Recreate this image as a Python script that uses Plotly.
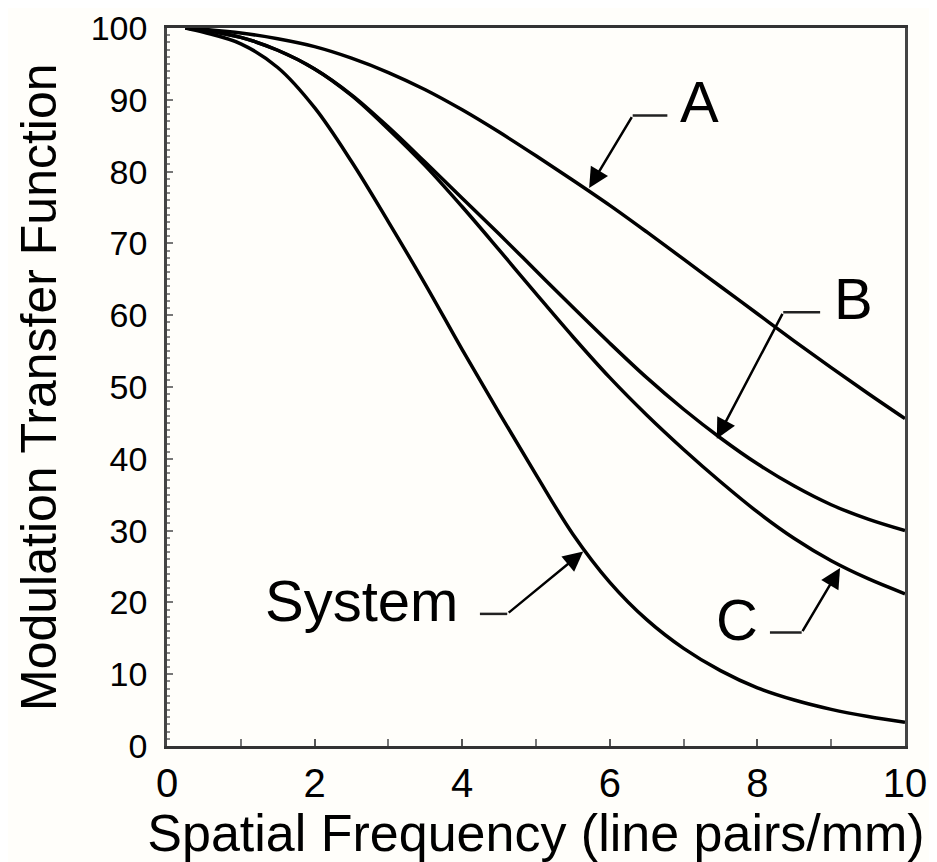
import plotly.graph_objects as go

# Data
x_sys = [0.25, 0.5, 1, 1.5, 2, 2.5, 3, 3.5, 4, 4.5, 5, 5.5, 6, 6.5, 7, 7.5, 8, 8.5, 9, 9.5, 10]
y_sys = [100, 99.4, 97.8, 94.5, 88.9, 81.4, 73, 64.3, 55.2, 46.4, 37.8, 29.5, 22.8, 17.6, 13.6, 10.5, 8.1, 6.4, 5.1, 4.1, 3.3]

x_a = [0.25, 0.5, 1, 1.5, 2, 2.5, 3, 3.5, 4, 4.5, 5, 5.5, 6, 6.5, 7, 7.5, 8, 8.5, 9, 9.5, 10]
y_a = [100, 99.8, 99.3, 98.5, 97.4, 95.8, 93.8, 91.4, 88.6, 85.5, 82.2, 78.8, 75.3, 71.6, 67.8, 64, 60.2, 56.4, 52.7, 49.1, 45.6]

x_b = [0.25, 0.5, 1, 1.5, 2, 2.5, 3, 3.5, 4, 4.5, 5, 5.5, 6, 6.5, 7, 7.5, 8, 8.5, 9, 9.5, 10]
y_b = [100, 99.7, 98.7, 96.9, 94.3, 90.7, 86.2, 81.3, 76.3, 71.3, 66.2, 61.1, 56.1, 51.3, 46.9, 42.9, 39.3, 36.2, 33.6, 31.6, 30]

x_c = [0.25, 0.5, 1, 1.5, 2, 2.5, 3, 3.5, 4, 4.5, 5, 5.5, 6, 6.5, 7, 7.5, 8, 8.5, 9, 9.5, 10]
y_c = [100, 99.7, 98.7, 96.9, 94.3, 90.6, 85.9, 80.8, 75.1, 69.1, 63, 57, 51.3, 46.1, 41.3, 36.8, 32.6, 28.9, 25.8, 23.3, 21.2]

x_ticks = [0, 2, 4, 6, 8, 10]
y_ticks = [0, 10, 20, 30, 40, 50, 60, 70, 80, 90, 100]

x_title = "Spatial Frequency (line pairs/mm)"
y_title = "Modulation Transfer Function"

# Labels: text, text position, leader elbow, leader end, arrow tip
labels = [
    ("A", (7.21, 89.8), (6.31, 87.8), (6.78, 87.8), (5.72, 77.7)),
    ("B", (9.30, 62.3), (8.35, 60.4), (8.85, 60.4), (7.45, 42.8)),
    ("C", (7.72, 17.6), (8.60, 15.8), (8.17, 15.8), (9.12, 24.8)),
    ("System", (2.63, 20.2), (4.61, 18.4), (4.24, 18.4), (5.64, 27.1)),
]

FONT = "Liberation Sans, Arial, sans-serif"

# page body has an 8px margin: size the figure so the plot lands where the reference has it
W, H = 929, 854
L, R, T, B = 159, 32, 20, 116

fig = go.Figure()
for xs, ys in [(x_a, y_a), (x_b, y_b), (x_c, y_c), (x_sys, y_sys)]:
    fig.add_trace(go.Scatter(x=xs, y=ys, mode="lines",
                             line=dict(color="black", width=3.5, shape="spline", smoothing=1.0),
                             showlegend=False, hoverinfo="skip"))

for text, (tx, ty), (ex, ey), (hx, hy), (px, py) in labels:
    fig.add_annotation(x=tx, y=ty, xref="x", yref="y", text=text, showarrow=False,
                       font=dict(family=FONT, size=58, color="black"),
                       xanchor="center", yanchor="middle")
    fig.add_shape(type="line", x0=ex, y0=ey, x1=hx, y1=hy, xref="x", yref="y",
                  line=dict(color="#222", width=2.5))
    fig.add_annotation(x=px, y=py, ax=ex, ay=ey, xref="x", yref="y",
                       axref="x", ayref="y", text="", showarrow=True,
                       arrowhead=2, arrowsize=1.6, arrowwidth=2.5, arrowcolor="black")

# y-axis title
fig.add_annotation(x=0, y=0.5, xref="paper", yref="paper", text=y_title, textangle=-90,
                   showarrow=False, xanchor="center", yanchor="middle", xshift=-(L - 31),
                   font=dict(family=FONT, size=50, color="black"))

fig.update_layout(
    width=W, height=H,
    margin=dict(l=L, r=R, t=T, b=B, autoexpand=False),
    paper_bgcolor="#fffefa", plot_bgcolor="#fffefa",
    font=dict(family=FONT, color="black"),
)
fig.update_xaxes(
    automargin=False,
    range=[0, 10], tickvals=x_ticks, ticktext=[str(v) for v in x_ticks],
    showgrid=False, zeroline=False, showline=True, linecolor="#333", linewidth=2.5,
    mirror=True, ticks="inside", ticklen=7, tickcolor="#555", tickwidth=1.5,
    minor=dict(dtick=1, ticks="inside", ticklen=7, tickcolor="#777"),
    tickfont=dict(size=40, family=FONT), ticklabelstandoff=0,
    title=dict(text=x_title, font=dict(size=52, family=FONT), standoff=0),
)
fig.update_yaxes(
    automargin=False,
    range=[0, 100], tickvals=y_ticks, ticktext=[str(v) for v in y_ticks],
    showgrid=False, zeroline=False, showline=True, linecolor="#444", linewidth=2.5,
    mirror=True, ticks="inside", ticklen=6, tickcolor="#777", tickwidth=1.5,
    minor=dict(dtick=1, ticks="inside", ticklen=3, tickcolor="#888"),
    tickfont=dict(size=34, family=FONT), ticklabelstandoff=10,
)

fig.write_html("out.html")
